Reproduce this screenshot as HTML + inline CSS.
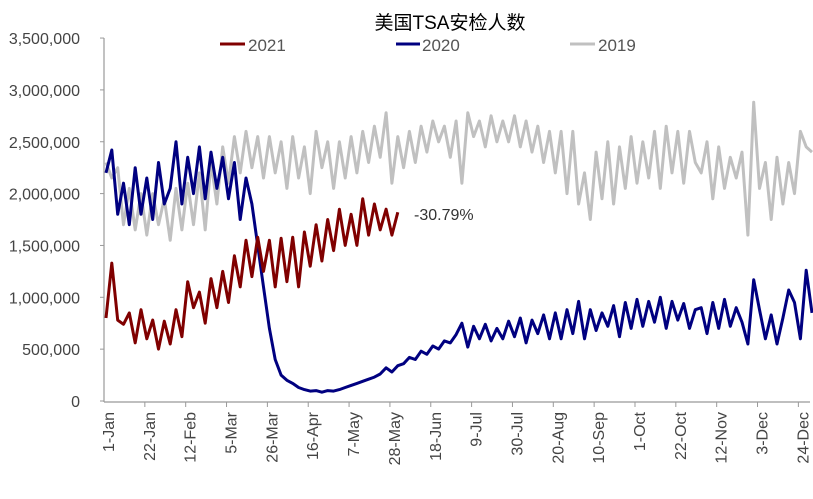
<!DOCTYPE html>
<html><head><meta charset="utf-8"><style>
body{margin:0;background:#fff;}
svg{display:block;font-family:"Liberation Sans","Noto Sans CJK SC",sans-serif;}
</style></head><body>
<svg id="chart" width="813" height="499" viewBox="0 0 813 499">
<text x="450" y="29" text-anchor="middle" font-size="19" fill="#000">美国TSA安检人数</text>
<g>
 <g><line x1="220" y1="44" x2="245" y2="44" stroke="#800000" stroke-width="3"/><text x="248" y="51" font-size="17" fill="#555">2021</text></g>
 <g><line x1="396" y1="44" x2="420" y2="44" stroke="#000080" stroke-width="3"/><text x="422" y="51" font-size="17" fill="#555">2020</text></g>
 <g><line x1="570" y1="44" x2="595" y2="44" stroke="#c0c0c0" stroke-width="3"/><text x="598" y="51" font-size="17" fill="#555">2019</text></g>
</g>
<g id="yaxis"></g>
<g id="xaxis"></g>
<g id="series"></g>
<text x="414" y="220" font-size="16" fill="#333">-30.79%</text>
</svg>
<script>
const yTicks=[0,500000,1000000,1500000,2000000,2500000,3000000,3500000];
const xLabels=["1-Jan","22-Jan","12-Feb","5-Mar","26-Mar","16-Apr","7-May","28-May","18-Jun","9-Jul","30-Jul","20-Aug","10-Sep","1-Oct","22-Oct","12-Nov","3-Dec","24-Dec"];
const stepDays=3;
const s2019=[2300,2150,2250,1700,2050,1650,2000,1600,2000,1700,1950,
1550,2050,1650,2100,1700,2200,1650,2300,1900,
2450,2100,2550,2200,2600,2250,2550,2150,2550,2200,2500,
2050,2550,2150,2450,2000,2600,2250,2500,2050,2500,
2150,2550,2200,2600,2300,2650,2350,2780,2100,2550,
2250,2600,2300,2650,2400,2700,2500,2650,2350,2700,
2100,2780,2550,2700,2450,2750,2500,2700,2500,2750,
2450,2700,2400,2650,2300,2600,2200,2600,2000,2600,
1900,2200,1750,2400,1950,2500,1900,2450,2050,2550,
2100,2500,2150,2600,2050,2650,2200,2600,2100,2600,2300,
2200,2500,1950,2450,2050,2350,2150,2400,1600,2880,
2050,2300,1750,2350,1900,2300,2000,2600,2450,2400];
const s2020=[2200,2420,1800,2100,1700,2250,1800,2150,1750,2300,1900,
2050,2500,1900,2350,2000,2450,1950,2400,2050,
2350,1950,2300,1750,2150,1900,1500,1100,700,400,250,
200,170,130,110,95,100,85,100,95,110,
130,150,170,190,210,230,260,320,280,340,
360,420,400,480,450,530,500,580,560,640,
750,520,720,600,740,580,700,600,770,620,
800,560,780,650,830,600,850,600,880,650,
960,600,880,680,850,720,920,620,950,700,
980,720,960,760,1000,700,960,780,940,700,880,
900,650,950,700,980,720,900,760,550,1170,
880,600,830,550,800,1070,950,600,1260,850];
const s2021=[800,1330,780,740,850,560,880,600,780,500,770,550,880,620,1150,900,1050,750,1180,900,
1250,950,1400,1100,1550,1200,1580,1250,1550,1100,1570,1150,1580,1100,1630,1300,1700,1350,1750,1450,
1850,1500,1800,1500,1950,1600,1900,1650,1850,1600,1820];
const X=d=>106+d*1.945;
const Y=v=>401-v/1000000*103.7;
const NS="http://www.w3.org/2000/svg";
const yA=document.getElementById('yaxis'),xA=document.getElementById('xaxis'),sg=document.getElementById('series');
function mk(t,a,p){const e=document.createElementNS(NS,t);for(const k in a)e.setAttribute(k,a[k]);p.appendChild(e);return e;}
const al=mk('line',{x1:104,y1:Y(3500000),x2:104,y2:402,stroke:'#999','stroke-width':1.2},yA);


yTicks.forEach(v=>{
 const t=mk('text',{x:80,y:Y(v)+6,'text-anchor':'end','font-size':16,fill:'#444'},yA);
 
 
 t.textContent=v.toLocaleString('en-US');
 const tk=mk('line',{x1:100,y1:Y(v),x2:104,y2:Y(v),stroke:'#999'},yA);
 
 
});
const xl=mk('line',{x1:104,y1:402,x2:810,y2:402,stroke:'#999','stroke-width':1.2},xA);


xLabels.forEach((s,i)=>{
 const d=i*21;
 if(i>0){const tk=mk('line',{x1:X(d)-2,y1:402,x2:X(d)-2,y2:407,stroke:'#999'},xA);
 
 }
 const t=mk('text',{transform:`translate(${X(d)+8},412) rotate(-90)`,'text-anchor':'end','font-size':16,fill:'#444'},xA);
 
 
 t.textContent=s;
});
function line(arr,color,name){
 const pts=arr.map((v,i)=>X(i*stepDays).toFixed(1)+','+Y(v*1000).toFixed(1)).join(' ');
 const p=mk('polyline',{points:pts,fill:'none',stroke:color,'stroke-width':3,'stroke-linejoin':'round'},sg);
 
 
}
line(s2019,'#c0c0c0','line-2019');
line(s2020,'#000080','line-2020');
line(s2021,'#800000','line-2021');
</script>
</body></html>
